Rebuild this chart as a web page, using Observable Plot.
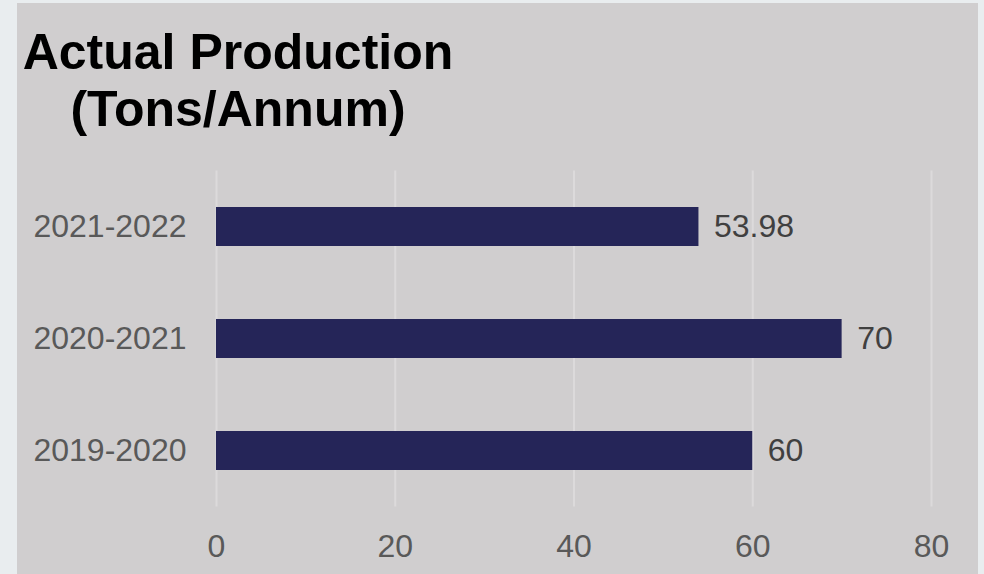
<!DOCTYPE html>
<html>
<head>
<meta charset="utf-8">
<script src="https://cdn.jsdelivr.net/npm/d3@7"></script>
<script src="https://cdn.jsdelivr.net/npm/@observablehq/plot@0.6"></script>
<style>
  html, body { margin: 0; padding: 0; }
  body { width: 984px; height: 574px; background: #e9edef; position: relative; overflow: hidden;
         font-family: "Liberation Sans", Arial, sans-serif; }
  #panel { position: absolute; left: 17px; top: 3px; width: 961px; height: 575px; background: #d0cecf; }
  #title { position: absolute; left: 0; top: 24px; width: 476px; text-align: center;
           font-size: 50px; font-weight: bold; line-height: 57px; color: #000; }
  #chart { position: absolute; left: 0; top: 0; }
</style>
</head>
<body>
<div id="panel"></div>
<div id="chart"></div>
<div id="title">Actual Production<br>(Tons/Annum)</div>
<script>
const periods = ["2021-2022", "2020-2021", "2019-2020"];
const production = [53.98, 70, 60];
const valueLabels = ["53.98", "70", "60"];
const xTicks = [0, 20, 40, 60, 80];

const data = periods.map((p, i) => ({period: p, value: production[i], label: valueLabels[i]}));

const chart = Plot.plot({
  width: 984,
  height: 574,
  marginLeft: 216,
  marginRight: 53,
  marginTop: 170.5,
  marginBottom: 67.5,
  style: {background: "transparent", fontFamily: "'Liberation Sans', Arial, sans-serif"},
  x: {domain: [0, 80]},
  y: {domain: periods, paddingInner: 0.65, paddingOuter: 0.325},
  marks: [
    Plot.gridX(xTicks, {stroke: "#dcdadb", strokeOpacity: 1, strokeWidth: 2}),
    Plot.barX(data, {x: "value", y: "period", fill: "#252558"}),
    Plot.text(data, {x: "value", y: "period", text: "label", textAnchor: "start", dx: 15,
                     fontSize: 32, fill: "#404040"}),
    Plot.axisX({ticks: xTicks, tickSize: 0, tickPadding: 27, fontSize: 32, color: "#595959", label: null}),
    Plot.axisY({tickSize: 0, tickPadding: 30, fontSize: 32, color: "#595959", label: null})
  ]
});
document.getElementById("chart").appendChild(chart);
</script>
</body>
</html>
